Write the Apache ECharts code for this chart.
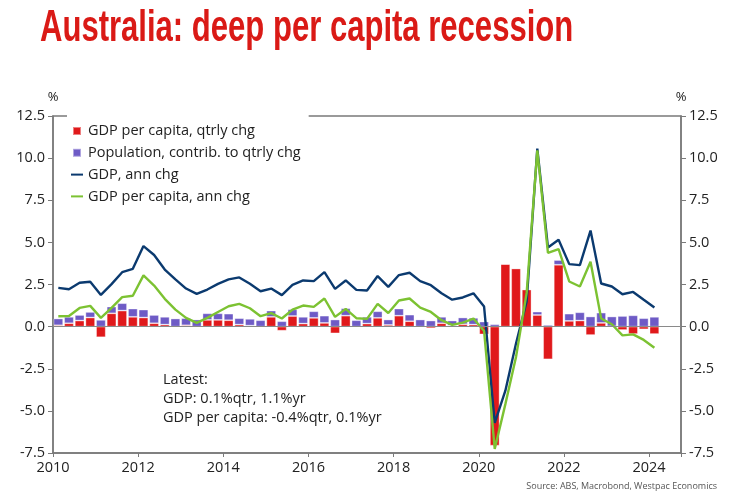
<!DOCTYPE html>
<html>
<head>
<meta charset="utf-8">
<script src="https://cdn.jsdelivr.net/npm/echarts@6/dist/echarts.min.js"></script>
<style>
html,body{margin:0;padding:0;background:#fff;}
#c{width:731px;height:497px;}
</style>
</head>
<body>
<div id="c"></div>
<script>
// Quarterly data, 2010Q1 .. 2024Q1
const startYear = 2010;
const gdpPerCapitaQtr = [
  0.08, 0.2, 0.36, 0.54, -0.63, 0.79, 0.95, 0.58, 0.54, 0.2,
  0.12, 0.0, 0.08, 0.0, 0.4, 0.4, 0.38, 0.12, 0.06, 0.0,
  0.58, -0.24, 0.63, 0.18, 0.52, 0.22, -0.4, 0.65, -0.02, 0.18,
  0.52, 0.1, 0.65, 0.32, 0.0, -0.1, 0.2, 0.06, 0.14, 0.12,
  -0.46, -7.06, 3.71, 3.45, 2.2, 0.69, -1.94, 3.67, 0.34, 0.36,
  -0.5, 0.22, 0.02, -0.2, -0.44, -0.16, -0.44
];
const populationContrib = [
  0.4, 0.38, 0.33, 0.33, 0.4, 0.4, 0.44, 0.49, 0.47, 0.49,
  0.46, 0.48, 0.42, 0.42, 0.39, 0.39, 0.39, 0.38, 0.4, 0.38,
  0.37, 0.32, 0.4, 0.4, 0.39, 0.43, 0.42, 0.44, 0.38, 0.4,
  0.39, 0.32, 0.42, 0.39, 0.42, 0.36, 0.38, 0.3, 0.4, 0.4,
  0.3, 0.14, 0.03, 0.02, 0.02, 0.2, 0.1, 0.28, 0.43, 0.49,
  0.6, 0.61, 0.58, 0.63, 0.67, 0.5, 0.58
];
const gdpAnn = [
  2.3, 2.22, 2.6, 2.66, 1.88, 2.52, 3.23, 3.43, 4.78, 4.25,
  3.39, 2.8, 2.26, 1.94, 2.2, 2.54, 2.8, 2.92, 2.54, 2.1,
  2.26, 1.87, 2.48, 2.74, 2.7, 3.23, 2.24, 2.74, 2.18, 2.14,
  3.0, 2.36, 3.06, 3.2, 2.7, 2.46, 1.98, 1.6, 1.73, 1.98,
  1.19, -5.71, -3.8, -1.0, 1.5, 10.56, 4.7, 5.16, 3.71, 3.65,
  5.7, 2.56, 2.38, 1.92, 2.06, 1.59, 1.13
];
const gdpPerCapitaAnn = [
  0.62, 0.63, 1.11, 1.23, 0.52, 1.11, 1.75, 1.83, 3.04, 2.44,
  1.65, 1.01, 0.52, 0.22, 0.52, 0.87, 1.21, 1.35, 1.09, 0.62,
  0.8, 0.48, 1.01, 1.25, 1.17, 1.67, 0.58, 1.05, 0.5, 0.46,
  1.35, 0.81, 1.55, 1.67, 1.13, 0.87, 0.38, 0.1, 0.24, 0.48,
  -0.26, -7.26, -4.6, -1.8, 2.0, 10.46, 4.37, 4.6, 2.68, 2.38,
  3.85, 0.48, 0.14, -0.52, -0.46, -0.79, -1.25
];
const yTicks = { min: -7.5, max: 12.5, interval: 2.5 };
const xTicks = { min: 2010, max: 2024.75, interval: 2 };

// quarter categories spanning the x range (2010Q1 .. 2024Q3)
const quarters = [];
for (let y = xTicks.min; y < xTicks.max; y += 0.25) {
  quarters.push(Math.floor(y) + 'Q' + (Math.round((y - Math.floor(y)) * 4) + 1));
}

const FONT = '"Open Sans", sans-serif';
const RED = '#E0191B', PURPLE = '#6E5BC6', NAVY = '#0B3A6F', GREEN = '#7CC232';
const AXIS = '#7a7a7a';

const chart = echarts.init(document.getElementById('c'), null, {renderer: 'canvas'});
const yAxisCommon = {
  type: 'value', min: yTicks.min, max: yTicks.max, interval: yTicks.interval,
  splitLine: {show: false},
  axisLine: {show: true, lineStyle: {color: AXIS, width: 1.5}},
  axisTick: {show: true, length: 5, lineStyle: {color: AXIS, width: 1}},
  axisLabel: {color: '#222', fontSize: 14.5, fontFamily: FONT, formatter: v => v.toFixed(1)},
  name: '%', nameLocation: 'end', nameGap: 12,
  nameTextStyle: {color: '#222', fontSize: 13, fontFamily: FONT}
};
chart.setOption({
  animation: false,
  grid: {left: 53, right: 50, top: 116, bottom: 44, show: true,
    borderColor: AXIS, borderWidth: 1.5, backgroundColor: 'transparent'},
  legend: {
    orient: 'vertical', left: 67, top: 112, padding: [11, 8, 4, 4],
    backgroundColor: '#fff',
    itemWidth: 12, itemHeight: 8, itemGap: 5.8,
    textStyle: {color: '#222', fontSize: 14.5, fontFamily: FONT, lineHeight: 16},
    data: [
      {name: 'GDP per capita, qtrly chg', icon: 'path://M0,0h8v8h-8z'},
      {name: 'Population, contrib. to qtrly chg', icon: 'path://M0,0h8v8h-8z'},
      {name: 'GDP, ann chg', icon: 'path://M0,0h12v2h-12z'},
      {name: 'GDP per capita, ann chg', icon: 'path://M0,0h12v2h-12z'}
    ]
  },
  xAxis: [
    {
      type: 'category', data: quarters, boundaryGap: true, show: false
    },
    {
      type: 'value', min: xTicks.min, max: xTicks.max, interval: xTicks.interval,
      position: 'bottom',
      splitLine: {show: false},
      axisLine: {show: true, onZero: false, lineStyle: {color: AXIS, width: 1.5}},
      axisTick: {show: true, length: 4, lineStyle: {color: AXIS}},
      axisLabel: {color: '#222', fontSize: 14.5, fontFamily: FONT, margin: 7,
        formatter: v => (Math.abs(v - Math.round(v)) < 1e-6 && Math.round(v) % 2 === 0 ? String(Math.round(v)) : '')}
    }
  ],
  yAxis: [
    Object.assign({}, yAxisCommon, {position: 'left'}),
    Object.assign({}, yAxisCommon, {position: 'right'})
  ],
  series: [
    {
      name: 'GDP per capita, qtrly chg', type: 'bar', stack: 'q', barWidth: 9.6,
      xAxisIndex: 0, yAxisIndex: 0,
      itemStyle: {color: RED, borderColor: 'rgba(255,255,255,0.45)', borderWidth: 0.8},
      data: gdpPerCapitaQtr,
      markLine: {silent: true, symbol: 'none', label: {show: false},
        lineStyle: {color: '#8a8a8a', width: 1, type: 'solid'}, data: [{yAxis: 0}]}
    },
    {
      name: 'Population, contrib. to qtrly chg', type: 'bar', stack: 'q', barWidth: 9.6,
      xAxisIndex: 0, yAxisIndex: 0,
      itemStyle: {color: PURPLE, borderColor: 'rgba(255,255,255,0.45)', borderWidth: 0.8},
      data: populationContrib
    },
    {
      name: 'GDP, ann chg', type: 'line', showSymbol: false, symbol: 'none',
      xAxisIndex: 0, yAxisIndex: 0,
      lineStyle: {color: NAVY, width: 2.4}, itemStyle: {color: NAVY},
      data: gdpAnn
    },
    {
      name: 'GDP per capita, ann chg', type: 'line', showSymbol: false, symbol: 'none',
      xAxisIndex: 0, yAxisIndex: 0,
      lineStyle: {color: GREEN, width: 2.4}, itemStyle: {color: GREEN},
      data: gdpPerCapitaAnn
    }
  ],
  graphic: [
    {type: 'text', left: 40, top: 6, scaleX: 0.69,
      style: {text: 'Australia: deep per capita recession',
        font: 'bold 45px "Liberation Sans Narrow", "Liberation Sans", sans-serif', fill: '#DA1A16'}},
    {type: 'text', left: 163, top: 370,
      style: {text: 'Latest:\nGDP: 0.1%qtr, 1.1%yr\nGDP per capita: -0.4%qtr, 0.1%yr',
        font: '14.5px ' + FONT, fill: '#222', lineHeight: 19}},
    {type: 'text', right: 14, top: 482,
      style: {text: 'Source: ABS, Macrobond, Westpac Economics', font: '9px ' + FONT, fill: '#555'}}
  ]
});
</script>
</body>
</html>
